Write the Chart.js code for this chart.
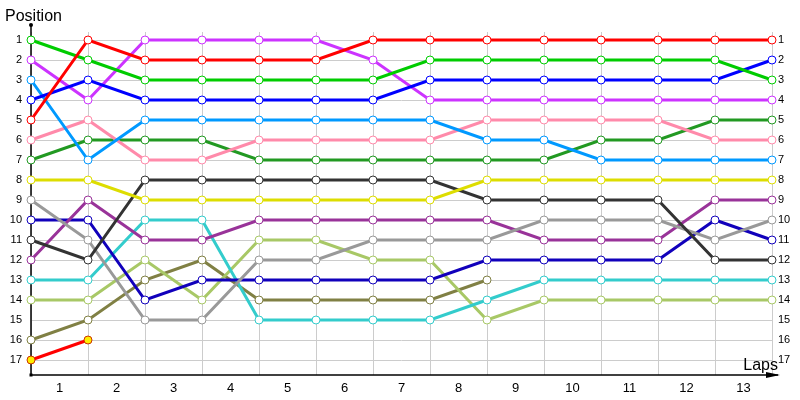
<!DOCTYPE html>
<html>
<head>
<meta charset="utf-8">
<script src="https://cdn.jsdelivr.net/npm/chart.js@4/dist/chart.umd.min.js"></script>
<style>
html,body{margin:0;padding:0;background:#fff;}
#wrap{width:800px;height:400px;}
</style>
</head>
<body>
<div id="wrap"><canvas id="c" width="800" height="400"></canvas></div>
<script>
// Lap boundaries (point indices) and lap labels
const pointIdx = [0,1,2,3,4,5,6,7,8,9,10,11,12,13];
const lapLabels = ['1','2','3','4','5','6','7','8','9','10','11','12','13'];
const positions = [1,2,3,4,5,6,7,8,9,10,11,12,13,14,15,16,17];

// Positions per car (by line colour)
const posRed       = [5,1,2,2,2,2,1,1,1,1,1,1,1,1];
const posGreen     = [1,2,3,3,3,3,3,2,2,2,2,2,2,3];
const posBlue      = [4,3,4,4,4,4,4,3,3,3,3,3,3,2];
const posViolet    = [2,4,1,1,1,1,2,4,4,4,4,4,4,4];
const posSky       = [3,7,5,5,5,5,5,5,6,6,7,7,7,7];
const posPink      = [6,5,7,7,6,6,6,6,5,5,5,5,6,6];
const posDarkGreen = [7,6,6,6,7,7,7,7,7,7,6,6,5,5];
const posYellow    = [8,8,9,9,9,9,9,9,8,8,8,8,8,8];
const posBlack     = [11,12,8,8,8,8,8,8,9,9,9,9,12,12];
const posGray      = [9,11,15,15,12,12,11,11,11,10,10,10,11,10];
const posPlum      = [12,9,11,11,10,10,10,10,10,11,11,11,9,9];
const posNavy      = [10,10,14,13,13,13,13,13,12,12,12,12,10,11];
const posCyan      = [13,13,10,10,15,15,15,15,14,13,13,13,13,13];
const posLime      = [14,14,12,14,11,11,12,12,15,14,14,14,14,14];
const posOlive     = [16,15,13,12,14,14,14,14,13];
const posLast      = [17,16];

const series = [
  {d: posRed, c:'#ff0000'},
  {d: posGreen, c:'#00cc00'},
  {d: posBlue, c:'#0000ff'},
  {d: posViolet, c:'#cc33ff'},
  {d: posSky, c:'#0099ff'},
  {d: posPink, c:'#ff8aaa'},
  {d: posDarkGreen, c:'#229922'},
  {d: posYellow, c:'#dddd00'},
  {d: posBlack, c:'#333333'},
  {d: posGray, c:'#999999'},
  {d: posPlum, c:'#993399'},
  {d: posNavy, c:'#1100bb'},
  {d: posCyan, c:'#33cccc'},
  {d: posLime, c:'#a8c866'},
  {d: posOlive, c:'#808044'},
  {d: posLast, c:'#ff0000', fill:'#ffee00', pb:'#cc3300'}
];

const datasets = series.map(s => ({
  data: s.d.map((v,i) => ({x: pointIdx[i], y: v})),
  borderColor: s.c,
  backgroundColor: s.c,
  borderWidth: 3,
  pointRadius: 4,
  pointBorderWidth: 1,
  pointBorderColor: s.pb || s.c,
  pointBackgroundColor: s.fill || '#ffffff',
  tension: 0,
  clip: false,
  xAxisID: 'x',
  yAxisID: 'y'
}));

const FONT = "'Liberation Sans', Arial, sans-serif";

const axesPlugin = {
  id: 'axesPlugin',
  beforeDatasetsDraw(chart) {
    const ctx = chart.ctx;
    const a = chart.chartArea;
    ctx.save();
    ctx.strokeStyle = '#000';
    ctx.fillStyle = '#000';
    ctx.lineWidth = 1.5;
    // y axis
    ctx.beginPath();
    ctx.moveTo(a.left, a.top - 7);
    ctx.lineTo(a.left, a.bottom);
    ctx.stroke();
    // x axis
    ctx.beginPath();
    ctx.moveTo(a.left, a.bottom);
    ctx.lineTo(a.right + 6, a.bottom);
    ctx.stroke();
    // arrow
    ctx.beginPath();
    ctx.moveTo(a.right + 8, a.bottom);
    ctx.lineTo(a.right - 6, a.bottom - 3);
    ctx.lineTo(a.right - 6, a.bottom + 3);
    ctx.closePath();
    ctx.fill();
    // dots
    ctx.beginPath();
    ctx.arc(a.left, a.top - 7, 2, 0, Math.PI*2);
    ctx.fill();
    ctx.fillRect(a.left - 1.5, a.bottom - 1.5, 3, 3);
    ctx.restore();
  },
  afterDraw(chart) {
    const ctx = chart.ctx;
    const a = chart.chartArea;
    ctx.save();
    ctx.fillStyle = '#000';
    ctx.font = "16px " + FONT;
    ctx.textBaseline = 'alphabetic';
    ctx.textAlign = 'left';
    ctx.fillText('Position', 5, 21);
    ctx.textAlign = 'right';
    ctx.fillText('Laps', a.right + 6, a.bottom - 5);
    ctx.restore();
  }
};

new Chart(document.getElementById('c'), {
  type: 'line',
  data: { datasets },
  options: {
    responsive: false,
    animation: false,
    devicePixelRatio: 1,
    layout: { padding: { top: 32, left: 0, right: 0, bottom: 0 } },
    plugins: { legend: { display: false }, tooltip: { enabled: false } },
    scales: {
      x: {
        type: 'linear', position: 'bottom', min: 0, max: 13,
        afterBuildTicks: s => { s.ticks = pointIdx.map(v => ({value: v})); },
        afterFit: s => { s.height = 0; },
        grid: { color: '#cccccc', lineWidth: 1, drawTicks: false },
        border: { display: false },
        ticks: { display: false }
      },
      x2: {
        type: 'linear', position: 'bottom', min: 0, max: 13,
        afterBuildTicks: s => { s.ticks = lapLabels.map((l, i) => ({value: i + 0.5})); },
        afterFit: s => { s.height = 25; },
        grid: { display: false, drawTicks: false },
        border: { display: false },
        ticks: {
          autoSkip: false, maxRotation: 0, padding: 6, color: '#000',
          font: { family: FONT, size: 13 },
          callback: (v, i) => lapLabels[i]
        }
      },
      y: {
        type: 'linear', position: 'left', reverse: true, min: 0.6, max: 17.75,
        afterBuildTicks: s => { s.ticks = positions.map(v => ({value: v})); },
        afterFit: s => { s.width = 31; },
        grid: { color: '#cccccc', lineWidth: 1, drawTicks: false },
        border: { display: false },
        ticks: { autoSkip: false, padding: 9, color: '#000', font: { family: FONT, size: 11 },
          callback: v => String(v) }
      },
      y2: {
        type: 'linear', position: 'right', reverse: true, min: 0.6, max: 17.75,
        afterBuildTicks: s => { s.ticks = positions.map(v => ({value: v})); },
        afterFit: s => { s.width = 28; },
        grid: { display: false, drawTicks: false },
        border: { display: false },
        ticks: { autoSkip: false, padding: 6, color: '#000', font: { family: FONT, size: 11 },
          callback: v => String(v) }
      }
    }
  },
  plugins: [axesPlugin]
});
</script>
</body>
</html>
